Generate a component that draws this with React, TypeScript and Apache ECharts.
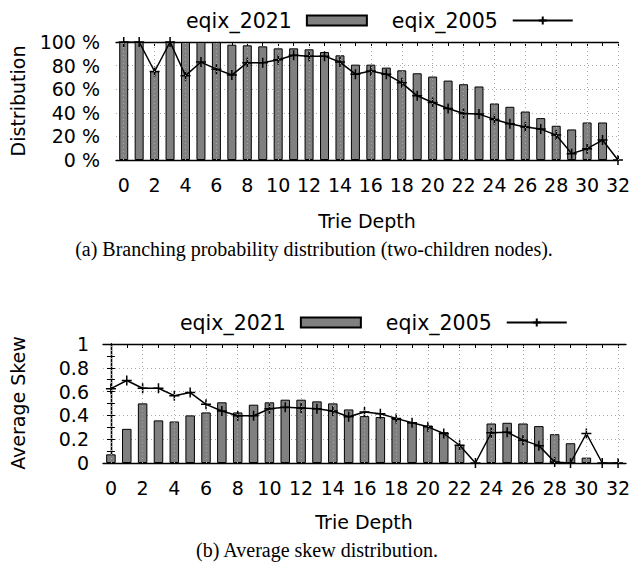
import React, { useEffect, useRef } from "react";
import * as echarts from "echarts";

const depth = [0, 1, 2, 3, 4, 5, 6, 7, 8, 9, 10, 11, 12, 13, 14, 15, 16, 17, 18, 19, 20, 21, 22, 23, 24, 25, 26, 27, 28, 29, 30, 31, 32];
const evenTicks = [0, 2, 4, 6, 8, 10, 12, 14, 16, 18, 20, 22, 24, 26, 28, 30, 32];

const branch2021 = [100, 100, 75.2, 100, 100, 100, 100, 97.7, 97.2, 96.3, 94.6, 94.6, 93.8, 91.5, 88.7, 80.8, 80.8, 78.3, 76, 73.5, 70.7, 67.3, 64.2, 62.3, 47.9, 45.1, 41.1, 35.5, 29, 25.9, 31.8, 31.8, 0];
const branch2005 = [100, 100, 75, 100, 71.5, 83, 77, 72, 82.5, 82.5, 85, 88.7, 88, 88, 83, 72.7, 75.5, 72.7, 65.4, 54.4, 48.7, 43.7, 39.4, 38.9, 34.4, 30.7, 27.9, 26.2, 21.1, 5.4, 9.6, 16.9, 0];

const skew2021 = [0.073, 0.287, 0.501, 0.358, 0.349, 0.4, 0.425, 0.51, 0.425, 0.49, 0.51, 0.532, 0.532, 0.518, 0.501, 0.45, 0.394, 0.386, 0.369, 0.341, 0.315, 0.259, 0.152, 0, 0.332, 0.338, 0.332, 0.31, 0.242, 0.166, 0.045, 0, 0];
const skew2005 = [0.625, 0.693, 0.628, 0.628, 0.566, 0.592, 0.493, 0.437, 0.397, 0.397, 0.456, 0.468, 0.462, 0.456, 0.437, 0.389, 0.428, 0.414, 0.375, 0.338, 0.304, 0.248, 0.149, 0, 0.254, 0.259, 0.192, 0.146, 0.008, 0, 0.248, 0, 0];

const FONT = "DejaVu Sans";
const SERIF = "Liberation Serif";
const FS = 19;
const CROSS = "path://M0,5L10,5M5,0L5,10";

const barPairs = (vals: number[]) =>
  vals.map((v, i) => [depth[i], v]).filter((p) => p[1] > 0);
const linePairs = (vals: number[]) => vals.map((v, i) => [depth[i], v]);

function xAxes(gridIndex: number, max: number) {
  const base = {
    gridIndex,
    type: "value" as const,
    min: -0.5,
    max,
    axisLine: { show: true, onZero: false, lineStyle: { color: "#000", width: 1.3 } },
    axisTick: { show: true, inside: true, length: 4, customValues: depth, lineStyle: { color: "#000", width: 1 } },
    splitLine: { show: false },
  };
  return [
    {
      ...base,
      position: "bottom",
      axisLabel: { show: true, customValues: evenTicks, margin: 15, fontFamily: FONT, fontSize: FS, color: "#000" },
    },
    { ...base, position: "top", axisLabel: { show: false } },
  ];
}

function yAxes(gridIndex: number, max: number, interval: number, fmt: (v: number) => string, margin: number) {
  const base = {
    gridIndex,
    type: "value" as const,
    min: 0,
    max,
    interval,
    axisLine: { show: true, lineStyle: { color: "#000", width: 1.3 } },
    axisTick: { show: true, inside: true, length: 4, lineStyle: { color: "#000", width: 1 } },
    minorTick: { show: true, splitNumber: 2, length: 4, lineStyle: { color: "#000", width: 1 } },
  };
  return [
    {
      ...base,
      position: "left",
      axisLabel: { show: true, margin, formatter: fmt, fontFamily: FONT, fontSize: FS, color: "#000" },
      splitLine: { show: true, lineStyle: { color: "#aaa", type: [1, 3], width: 1 } },
    },
    { ...base, position: "right", axisLabel: { show: false }, splitLine: { show: false } },
  ];
}

const gridMark = (xi: number, yi: number) => ({
  type: "line",
  xAxisIndex: xi,
  yAxisIndex: yi,
  data: [],
  silent: true,
  z: 1,
  markLine: {
    silent: true,
    symbol: ["none", "none"],
    label: { show: false },
    lineStyle: { color: "#aaa", type: [1, 3], width: 1 },
    data: evenTicks.map((v) => ({ xAxis: v })),
  },
});

const barStyle = { color: "#808080", borderColor: "#000", borderWidth: 1 };
const lineSeries = (name: string, xi: number, yi: number, vals: number[]) => ({
  name,
  type: "line",
  xAxisIndex: xi,
  yAxisIndex: yi,
  data: linePairs(vals),
  symbol: CROSS,
  symbolSize: 10,
  lineStyle: { color: "#000", width: 1.5 },
  itemStyle: { color: "#000", borderColor: "#000", borderWidth: 1.5 },
  z: 4,
});

const legendBase = {
  align: "right",
  orient: "horizontal",
  itemWidth: 60,
  itemHeight: 10,
  itemGap: 24,
  selectedMode: false,
  textStyle: { fontFamily: FONT, fontSize: 20.5, color: "#000", padding: [0, 10, 0, 0] },
  data: [{ name: "eqix_2021", icon: "rect" }, { name: "eqix_2005" }],
};

const txt = (text: string, x: number, y: number, font: string, rotation = 0) => ({
  type: "text",
  x,
  y,
  rotation,
  style: { text, font, fill: "#000", align: "center", verticalAlign: "middle" },
});

export default function App() {
  const ref = useRef<HTMLDivElement>(null);
  useEffect(() => {
    document.body.style.margin = "0";
    const chart = echarts.init(ref.current!, undefined, { renderer: "svg" });
    chart.setOption({
      animation: false,
      backgroundColor: "#fff",
      grid: [
        { left: 116, top: 42, width: 502, height: 118 },
        { left: 103, top: 344, width: 523, height: 119 },
      ],
      xAxis: [...xAxes(0, 32), ...xAxes(1, 32.5)],
      yAxis: [
        ...yAxes(0, 100, 20, (v: number) => `${v} %`, 16),
        ...yAxes(1, 1, 0.2, (v: number) => `${v}`, 14),
      ],
      legend: [
        { ...legendBase, left: 181, top: 5 },
        { ...legendBase, left: 175, top: 307 },
      ],
      series: [
        gridMark(0, 0),
        { name: "eqix_2021", type: "bar", xAxisIndex: 0, yAxisIndex: 0, data: barPairs(branch2021), barWidth: 9, itemStyle: barStyle, z: 2 },
        lineSeries("eqix_2005", 0, 0, branch2005),
        gridMark(2, 2),
        { name: "eqix_2021", type: "bar", xAxisIndex: 2, yAxisIndex: 2, data: barPairs(skew2021), barWidth: 9.5, itemStyle: barStyle, z: 2 },
        lineSeries("eqix_2005", 2, 2, skew2005),
      ],
      graphic: [
        txt("Distribution", 18, 101, `${FS}px "${FONT}"`, Math.PI / 2),
        txt("Trie Depth", 367, 221, `${FS}px "${FONT}"`),
        txt("(a) Branching probability distribution (two-children nodes).", 314, 249, `20px "${SERIF}"`),
        txt("Average Skew", 18, 403, `${FS}px "${FONT}"`, Math.PI / 2),
        txt("Trie Depth", 364, 522, `${FS}px "${FONT}"`),
        txt("(b) Average skew distribution.", 317, 550, `20px "${SERIF}"`),
      ],
    });
    return () => chart.dispose();
  }, []);
  return <div ref={ref} style={{ position: "absolute", left: 0, top: 0, width: 634, height: 572 }} />;
}
